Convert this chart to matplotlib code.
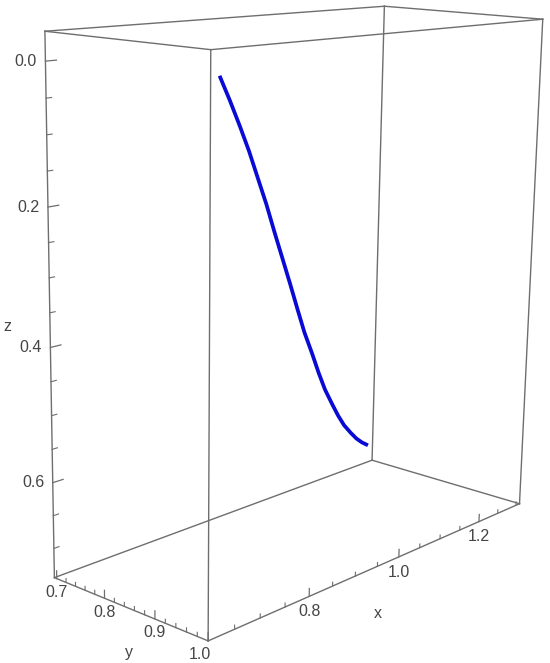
import numpy as np
import matplotlib
matplotlib.use("Agg")
import matplotlib.pyplot as plt
from mpl_toolkits.mplot3d import proj3d

# ---- data ----
curve_x = [0.632, 0.665, 0.697, 0.730, 0.762, 0.794, 0.826, 0.859, 0.891, 0.923, 0.955,
           0.988, 1.020, 1.052, 1.085, 1.117, 1.149, 1.182, 1.214, 1.246, 1.278]
curve_y = [0.984, 0.970, 0.957, 0.943, 0.929, 0.916, 0.902, 0.888, 0.875, 0.861, 0.847,
           0.834, 0.820, 0.806, 0.793, 0.779, 0.765, 0.752, 0.738, 0.724, 0.711]
curve_z = [-0.004, 0.031, 0.068, 0.107, 0.148, 0.191, 0.236, 0.282, 0.328, 0.373, 0.417,
           0.459, 0.499, 0.536, 0.570, 0.600, 0.627, 0.651, 0.672, 0.690, 0.706]

x_range = (0.60, 1.31)
y_range = (0.695, 1.00)
z_range = (-0.04, 0.745)

x_major = [0.8, 1.0, 1.2]
x_minor = [0.65, 0.70, 0.75, 0.85, 0.90, 0.95, 1.05, 1.10, 1.15, 1.25, 1.30]
y_major = [0.7, 0.8, 0.9, 1.0]
y_minor = [0.72, 0.74, 0.76, 0.78, 0.82, 0.84, 0.86, 0.88, 0.92, 0.94, 0.96, 0.98]
z_major = [0.0, 0.2, 0.4, 0.6]
z_minor = [0.05, 0.10, 0.15, 0.25, 0.30, 0.35, 0.45, 0.50, 0.55, 0.65, 0.70]

BOX_C = "#6e6e6e"
TXT_C = "#454545"
CURVE_C = "#0a0ad6"
FONT = "Liberation Sans"

fig = plt.figure(figsize=(5.5, 6.63), dpi=100)
ax = fig.add_axes([-0.1 + 21.5 / 550, 32 / 663, 1.2, 1.0], projection="3d",
                  proj_type="persp", focal_length=0.495)
ax.set_xlim(*x_range)
ax.set_ylim(*y_range)
ax.set_zlim(*z_range)
ax.set_box_aspect((x_range[1] - x_range[0], y_range[1] - y_range[0],
                   0.98 * (z_range[1] - z_range[0])), zoom=1.10)
ax.view_init(elev=-13.5, azim=138.8, roll=179)
ax.set_axis_off()

x0, x1 = x_range
y0, y1 = y_range
z0, z1 = z_range

def seg(xs, ys, zs, **kw):
    ax.plot(xs, ys, zs, clip_on=False, **kw)

# box edges
for yy in (y0, y1):
    for zz in (z0, z1):
        seg([x0, x1], [yy, yy], [zz, zz], color=BOX_C, lw=1.0)
for xx in (x0, x1):
    for zz in (z0, z1):
        seg([xx, xx], [y0, y1], [zz, zz], color=BOX_C, lw=1.0)
for xx in (x0, x1):
    for yy in (y0, y1):
        seg([xx, xx], [yy, yy], [z0, z1], color=BOX_C, lw=1.0)

# curve
seg(curve_x, curve_y, curve_z, color=CURVE_C, lw=2.7, solid_capstyle="butt")

# ticks (3D segments)
tx = 0.012
for v in x_major:
    seg([v, v], [y1, y1], [z1, z1 - tx], color=BOX_C, lw=0.9)
for v in x_minor:
    seg([v, v], [y1, y1], [z1, z1 - tx * 0.5], color=BOX_C, lw=0.8)
for v in y_major:
    seg([x0, x0], [v, v], [z1, z1 - tx], color=BOX_C, lw=0.9)
for v in y_minor:
    seg([x0, x0], [v, v], [z1, z1 - tx * 0.5], color=BOX_C, lw=0.8)
tz = 0.019
for v in z_major:
    seg([x0, x0 + tz], [y0, y0], [v, v], color=BOX_C, lw=0.9)
for v in z_minor:
    seg([x0, x0 + tz * 0.5], [y0, y0], [v, v], color=BOX_C, lw=0.8)

# labels: project 3D anchor, then place as 2D annotation
fig.canvas.draw()
M = ax.get_proj()

def label(x, y, z, s, dx, dy, **kw):
    px, py, _ = proj3d.proj_transform(x, y, z, M)
    ax.annotate(s, xy=(px, py), xycoords="data", xytext=(dx, dy),
                textcoords="offset points", color=TXT_C, fontsize=11.5,
                family=FONT, annotation_clip=False, **kw)

for v in x_major:
    label(v, y1, z1, f"{v:.1f}", 0, -11, ha="center", va="center")
label(0.95, y1, z1, "x", 0, -34, ha="center", va="center")

for v in y_major:
    dx = -6 if v == 1.0 else 0
    label(x0, v, z1, f"{v:.1f}", dx, -10, ha="center", va="center")
label(x0, 0.85, z1, "y", 0, -32, ha="center", va="center")

for v in z_major:
    label(x0, y0, v, f"{v:.1f}", -6, 0, ha="right", va="center")
label(x0, y0, 0.37, "z", -31, 0, ha="center", va="center")

fig.savefig("out.png", dpi=100)
